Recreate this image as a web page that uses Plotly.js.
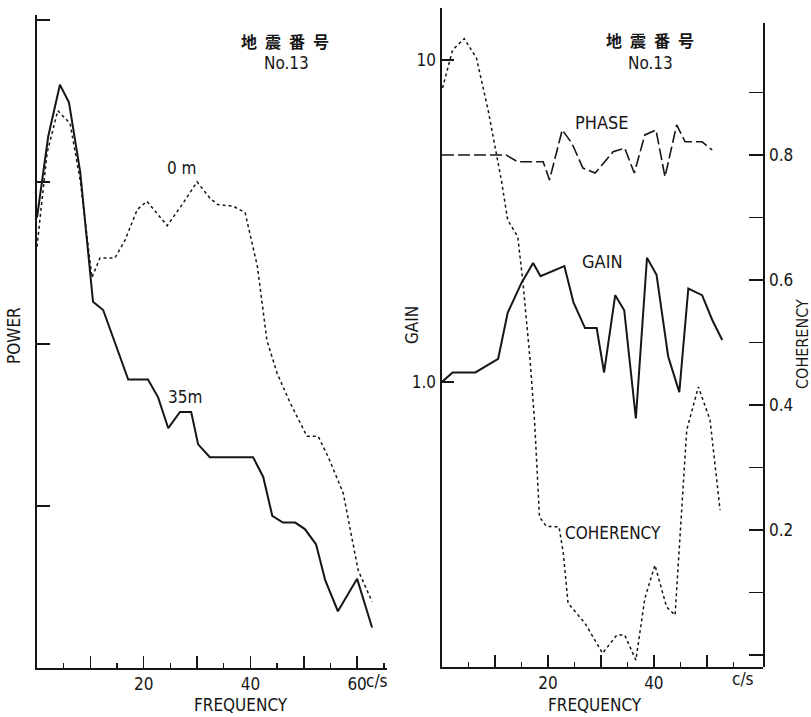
<!DOCTYPE html>
<html>
<head>
<meta charset="utf-8">
<script src="https://cdn.plot.ly/plotly-3.0.1.min.js"></script>
<style>html,body{margin:0;padding:0;background:#fff;}#chart{width:811px;height:717px;}</style>
</head>
<body>
<div id="chart"></div>
<script>
// ---- Left panel: power spectra (log power, arbitrary units) ----
const freq35m = [0, 2.1, 4.3, 6.0, 8.1, 10.5, 12.4, 17.1, 20.8, 22.7, 24.6, 26.8, 28.9, 30.2, 32.4, 40.5, 42.4, 44.1, 46.1, 48.4, 50.2, 52.3, 54.0, 56.4, 60.0, 62.8];
const power35m = [603, 1905, 3981, 3090, 1148, 182, 162, 60.3, 60.3, 46.8, 30.2, 38, 38, 24, 20, 20, 15.1, 8.7, 7.9, 7.9, 7.2, 5.8, 3.5, 2.24, 3.55, 1.78];
const freq0m = [0, 1.9, 3.9, 6.2, 8.1, 10.3, 11.8, 14.6, 16.5, 18.8, 20.6, 24.4, 27.2, 30.0, 32.4, 33.9, 36.8, 39.0, 41.3, 43.1, 45.0, 47.4, 50.6, 52.7, 54.6, 57.4, 60.2, 62.8];
const power0m = [398, 1514, 2754, 2291, 1023, 257, 339, 339, 437, 676, 759, 537, 724, 1000, 794, 724, 708, 646, 302, 105, 66, 43.6, 26.9, 26.9, 20, 12, 4, 2.57];

// ---- Right panel: gain, phase, coherency ----
const freqGain = [0, 2.0, 6.3, 10.6, 12.4, 15.0, 17.2, 18.6, 23.1, 24.8, 27.0, 29.2, 30.6, 32.7, 34.4, 36.6, 38.7, 40.5, 42.7, 44.8, 46.5, 49.1, 51.0, 52.9];
const gain = [1.0, 1.07, 1.07, 1.18, 1.64, 2.03, 2.34, 2.13, 2.29, 1.77, 1.47, 1.47, 1.07, 1.86, 1.67, 0.77, 2.43, 2.15, 1.20, 0.93, 1.95, 1.86, 1.56, 1.35];
const freqPhase = [0, 12.1, 14.3, 19.1, 20.3, 22.7, 24.5, 26.6, 28.9, 32.3, 34.5, 36.3, 38.3, 40.4, 42.1, 44.3, 45.9, 49.1, 51.0];
const phase = [0.800, 0.800, 0.789, 0.789, 0.760, 0.840, 0.819, 0.779, 0.771, 0.805, 0.811, 0.771, 0.832, 0.840, 0.765, 0.848, 0.821, 0.821, 0.808]; // no scale shown; drawn on coherency scale
const freqCoh = [0.1, 2.0, 4.2, 6.5, 8.7, 10.2, 11.2, 12.4, 14.3, 15.3, 16.6, 17.5, 18.4, 19.7, 22.1, 22.9, 23.8, 27.0, 30.3, 33.0, 34.5, 36.6, 38.3, 40.2, 42.4, 44.0, 44.9, 46.2, 48.4, 50.6, 52.5];
const coherency = [0.907, 0.968, 0.986, 0.955, 0.872, 0.808, 0.760, 0.696, 0.669, 0.595, 0.475, 0.371, 0.221, 0.206, 0.205, 0.163, 0.083, 0.051, 0.003, 0.032, 0.032, -0.008, 0.091, 0.144, 0.077, 0.064, 0.184, 0.360, 0.429, 0.376, 0.232];

// ---- tick labels ----
const freqMajor = [10, 20, 30, 40, 50, 60];
const freqMajorText = ['', '20', '', '40', '', '60'];
const freqMinor = [5, 15, 25, 35, 45, 55, 65];
const freqMajorR = [10, 20, 30, 40, 50];
const freqMajorTextR = ['', '20', '', '40', ''];
const freqMinorR = [5, 15, 25, 35, 45, 55];
const powerTicks = [1, 10, 100, 1000, 10000];
const gainTicks = [1, 10];
const gainTickText = ['1.0', '10'];
const cohTicks = [0, 0.1, 0.2, 0.3, 0.4, 0.5, 0.6, 0.7, 0.8, 0.9];
const cohTickText = ['', '', '0.2', '', '0.4', '', '0.6', '', '0.8', ''];

const INK = '#161616';
const FONT = 'Liberation Sans Narrow, DejaVu Sans Condensed, Arial Narrow, sans-serif';
const CJK = 'Noto Sans CJK JP, Noto Sans CJK SC, sans-serif';
const W = 811, H = 717;
const px = v => v / W;
const py = v => 1 - v / H;

const traces = [
  {x: freq35m, y: power35m, xaxis: 'x', yaxis: 'y', mode: 'lines', line: {color: INK, width: 2}, name: '35m'},
  {x: freq0m, y: power0m, xaxis: 'x', yaxis: 'y', mode: 'lines', line: {color: INK, width: 1.5, dash: 'dot'}, name: '0m'},
  {x: freqGain, y: gain, xaxis: 'x2', yaxis: 'y2', mode: 'lines', line: {color: INK, width: 2}, name: 'GAIN'},
  {x: freqCoh, y: coherency, xaxis: 'x2', yaxis: 'y3', mode: 'lines', line: {color: INK, width: 1.5, dash: 'dot'}, name: 'COHERENCY'},
  {x: freqPhase, y: phase, xaxis: 'x2', yaxis: 'y3', mode: 'lines', line: {color: INK, width: 1.6, dash: '12px,4px'}, name: 'PHASE'}
];

const axBase = {showgrid: false, zeroline: false, showline: true, linecolor: INK, linewidth: 1.6,
  ticks: 'inside', tickcolor: INK, tickwidth: 1.5, tickfont: {family: FONT, size: 17, color: INK}};

const layout = {
  width: W, height: H, margin: {l: 0, r: 0, t: 0, b: 0},
  paper_bgcolor: '#fff', plot_bgcolor: 'rgba(0,0,0,0)', showlegend: false,
  xaxis: Object.assign({}, axBase, {domain: [px(37), px(387)], range: [0, 65.6], anchor: 'y',
    tickmode: 'array', tickvals: freqMajor, ticktext: freqMajorText, ticklen: 12,
    minor: {tickmode: 'array', tickvals: freqMinor, ticks: 'inside', ticklen: 5, tickcolor: INK, tickwidth: 1.5}}),
  yaxis: Object.assign({}, axBase, {domain: [py(668), py(15)], type: 'log', range: [0, 4.03], anchor: 'x',
    tickmode: 'array', tickvals: powerTicks, showticklabels: false, ticklen: 13}),
  xaxis2: Object.assign({}, axBase, {domain: [px(442), px(763)], range: [0, 60.6], anchor: 'y2',
    tickmode: 'array', tickvals: freqMajorR, ticktext: freqMajorTextR, ticklen: 12,
    minor: {tickmode: 'array', tickvals: freqMinorR, ticks: 'inside', ticklen: 5, tickcolor: INK, tickwidth: 1.5}}),
  yaxis2: Object.assign({}, axBase, {domain: [py(667), py(8)], type: 'log', range: [-0.885, 1.161], anchor: 'x2',
    tickmode: 'array', tickvals: gainTicks, ticktext: gainTickText, ticklen: 12, ticklabelstandoff: 1}),
  yaxis3: Object.assign({}, axBase, {domain: [py(667), py(23)], range: [-0.019, 1.011], anchor: 'x2', side: 'right',
    tickmode: 'array', tickvals: cohTicks, ticktext: cohTickText, ticklen: 14, ticklabelstandoff: 1}),
  annotations: [
    {text: '<b>地\u2002震\u2002番\u2002号</b>', x: px(285), y: py(41), font: {family: CJK, size: 16, color: INK}},
    {text: 'No.13', x: px(286), y: py(63), font: {family: FONT, size: 17, color: INK}},
    {text: '<b>地\u2002震\u2002番\u2002号</b>', x: px(650), y: py(40), font: {family: CJK, size: 16, color: INK}},
    {text: 'No.13', x: px(650), y: py(63), font: {family: FONT, size: 17, color: INK}},
    {text: '0 m', x: px(181), y: py(168), font: {family: FONT, size: 17, color: INK}},
    {text: '35m', x: px(185), y: py(397), font: {family: FONT, size: 17, color: INK}},
    {text: 'PHASE', x: px(602), y: py(122), font: {family: FONT, size: 18, color: INK}},
    {text: 'GAIN', x: px(602), y: py(262), font: {family: FONT, size: 18, color: INK}},
    {text: 'COHERENCY', x: px(613), y: py(533), font: {family: FONT, size: 17, color: INK}},
    {text: 'c/s', x: px(377), y: py(681), font: {family: FONT, size: 17, color: INK}},
    {text: 'c/s', x: px(743), y: py(679), font: {family: FONT, size: 17, color: INK}},
    {text: 'FREQUENCY', x: px(241), y: py(705), font: {family: FONT, size: 17, color: INK}},
    {text: 'FREQUENCY', x: px(595), y: py(705), font: {family: FONT, size: 17, color: INK}},
    {text: 'POWER', x: px(14), y: py(336), textangle: -90, font: {family: FONT, size: 17, color: INK}},
    {text: 'GAIN', x: px(412), y: py(325), textangle: -90, font: {family: FONT, size: 17, color: INK}},
    {text: 'COHERENCY', x: px(803), y: py(344), textangle: -90, font: {family: FONT, size: 16, color: INK}}
  ].map(a => Object.assign({xref: 'paper', yref: 'paper', showarrow: false, xanchor: 'center', yanchor: 'middle'}, a))
};

Plotly.newPlot('chart', traces, layout, {staticPlot: true, displayModeBar: false});
</script>
</body>
</html>
